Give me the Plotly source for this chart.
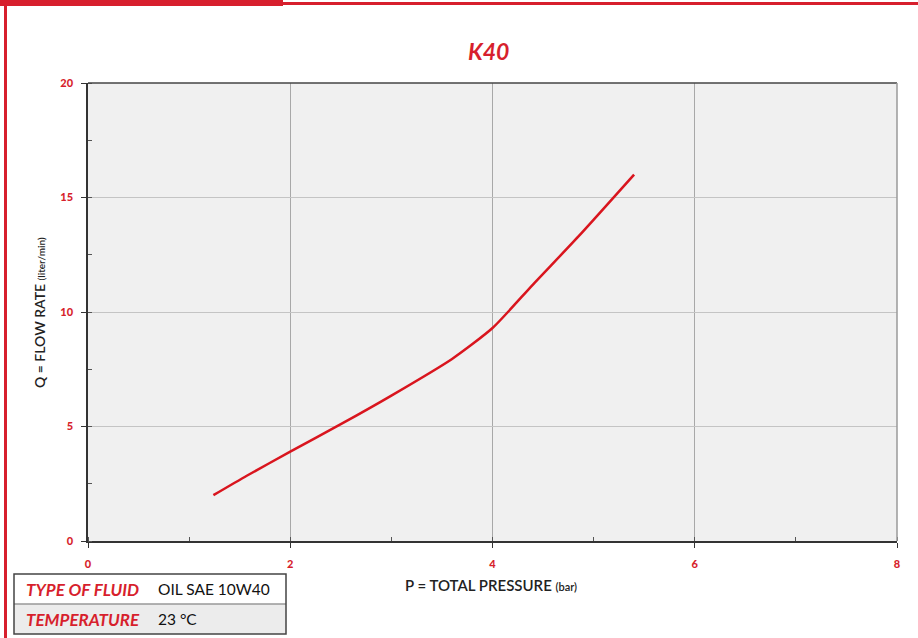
import plotly.graph_objects as go

# Data
pressure_bar = [1.24, 1.57, 2.0, 2.5, 3.0, 3.6, 4.0, 4.4, 4.85, 5.4]
flow_lpm = [2.0, 2.85, 3.9, 5.1, 6.35, 7.95, 9.3, 11.2, 13.3, 16.0]
x_ticks = [0, 2, 4, 6, 8]
y_ticks = [0, 5, 10, 15, 20]

W, H = 918, 638
RED = "#d71f2d"
LINE_RED = "#d9151e"

def px(x):
    return x / W

def py(y):
    return 1 - y / H

fig = go.Figure()
fig.add_trace(go.Scatter(
    x=pressure_bar, y=flow_lpm, mode="lines",
    line=dict(color=LINE_RED, width=2.5, shape="spline", smoothing=0.6),
    showlegend=False, hoverinfo="skip"))

font_family = "Lato, 'Open Sans', sans-serif"

fig.update_layout(
    width=W, height=H,
    margin=dict(l=0, r=0, t=0, b=0, pad=0, autoexpand=False),
    paper_bgcolor="white",
    plot_bgcolor="#f0f0f0",
    font=dict(family=font_family),
    showlegend=False,
)

tickfont = dict(color=RED, size=11, family=font_family, weight=900)

fig.update_xaxes(
    domain=[px(88), px(897)], range=[0, 8], automargin=False,
    tickvals=x_ticks, ticktext=[str(v) for v in x_ticks],
    ticks="outside", ticklen=5, tickcolor="#333", tickwidth=1,
    ticklabelstandoff=7,
    tickfont=tickfont,
    showgrid=True, gridcolor="#a8a8a8", gridwidth=1,
    showline=True, linecolor="#333", linewidth=1.5, mirror=False,
    minor=dict(dtick=1, ticks="inside", ticklen=4, tickcolor="#555", showgrid=False),
    zeroline=False, fixedrange=True,
)
fig.update_yaxes(
    domain=[py(541), py(83)], range=[0, 20], automargin=False,
    tickvals=y_ticks, ticktext=[str(v) for v in y_ticks],
    ticks="outside", ticklen=5, tickcolor="#333", tickwidth=1,
    ticklabelstandoff=6,
    tickfont=tickfont,
    showgrid=True, gridcolor="#c4c4c4", gridwidth=1,
    showline=True, linecolor="#333", linewidth=1.5, mirror=False,
    minor=dict(dtick=2.5, ticks="inside", ticklen=4, tickcolor="#555", showgrid=False),
    zeroline=False, fixedrange=True,
)

shapes = [
    dict(type="line", xref="paper", yref="paper", x0=px(88), x1=px(897), y0=py(83), y1=py(83),
         line=dict(color="#444", width=1.5)),
    dict(type="line", xref="paper", yref="paper", x0=px(897), x1=px(897), y0=py(83), y1=py(541),
         line=dict(color="#9a9a9a", width=1.5)),
    dict(type="rect", xref="paper", yref="paper", x0=0, x1=px(283), y0=py(0), y1=py(6),
         fillcolor=RED, line=dict(width=0)),
    dict(type="rect", xref="paper", yref="paper", x0=px(283), x1=1, y0=py(2), y1=py(5),
         fillcolor=RED, line=dict(width=0)),
    dict(type="rect", xref="paper", yref="paper", x0=px(4), x1=px(7), y0=0, y1=1,
         fillcolor=RED, line=dict(width=0)),
    dict(type="rect", xref="paper", yref="paper", x0=px(14), x1=px(286), y0=py(574), y1=py(604),
         fillcolor="white", line=dict(width=0)),
    dict(type="rect", xref="paper", yref="paper", x0=px(14), x1=px(286), y0=py(604), y1=py(634),
         fillcolor="#ececec", line=dict(width=0)),
    dict(type="line", xref="paper", yref="paper", x0=px(14), x1=px(286), y0=py(604), y1=py(604),
         line=dict(color="#999", width=1.5)),
    dict(type="rect", xref="paper", yref="paper", x0=px(14), x1=px(286), y0=py(574), y1=py(634),
         line=dict(color="#444", width=1.5)),
]
fig.update_layout(shapes=shapes)

def ann(text, x, y, size, color, xanchor="center", angle=0, weight="normal"):
    return dict(text=text, x=px(x), y=py(y), xref="paper", yref="paper",
                xanchor=xanchor, yanchor="middle", textangle=angle, showarrow=False,
                font=dict(size=size, color=color, family=font_family, weight=weight))

annotations = [
    ann("<b><i>K40</i></b>", 488, 51, 23, RED),
    ann("Q = FLOW RATE <span style='font-size:10px'>(liter/min)</span>", 39, 313, 14, "#222",
        angle=-90, weight=600),
    ann("P = TOTAL PRESSURE <span style='font-size:11px'>(bar)</span>", 491, 585, 15, "#222",
        weight=600),
    ann("<b><i>TYPE OF FLUID</i></b>", 24, 589, 17, RED, xanchor="left"),
    ann("OIL SAE 10W40", 156, 589, 15.5, "#111", xanchor="left"),
    ann("<b><i>TEMPERATURE</i></b>", 24, 619, 17, RED, xanchor="left"),
    ann("23 °C", 156, 619, 15.5, "#111", xanchor="left"),
]
fig.update_layout(annotations=annotations)

fig.write_html("out.html",
               config={"displayModeBar": False},
               post_script="document.body.style.margin='0';document.body.style.overflow='hidden';")
